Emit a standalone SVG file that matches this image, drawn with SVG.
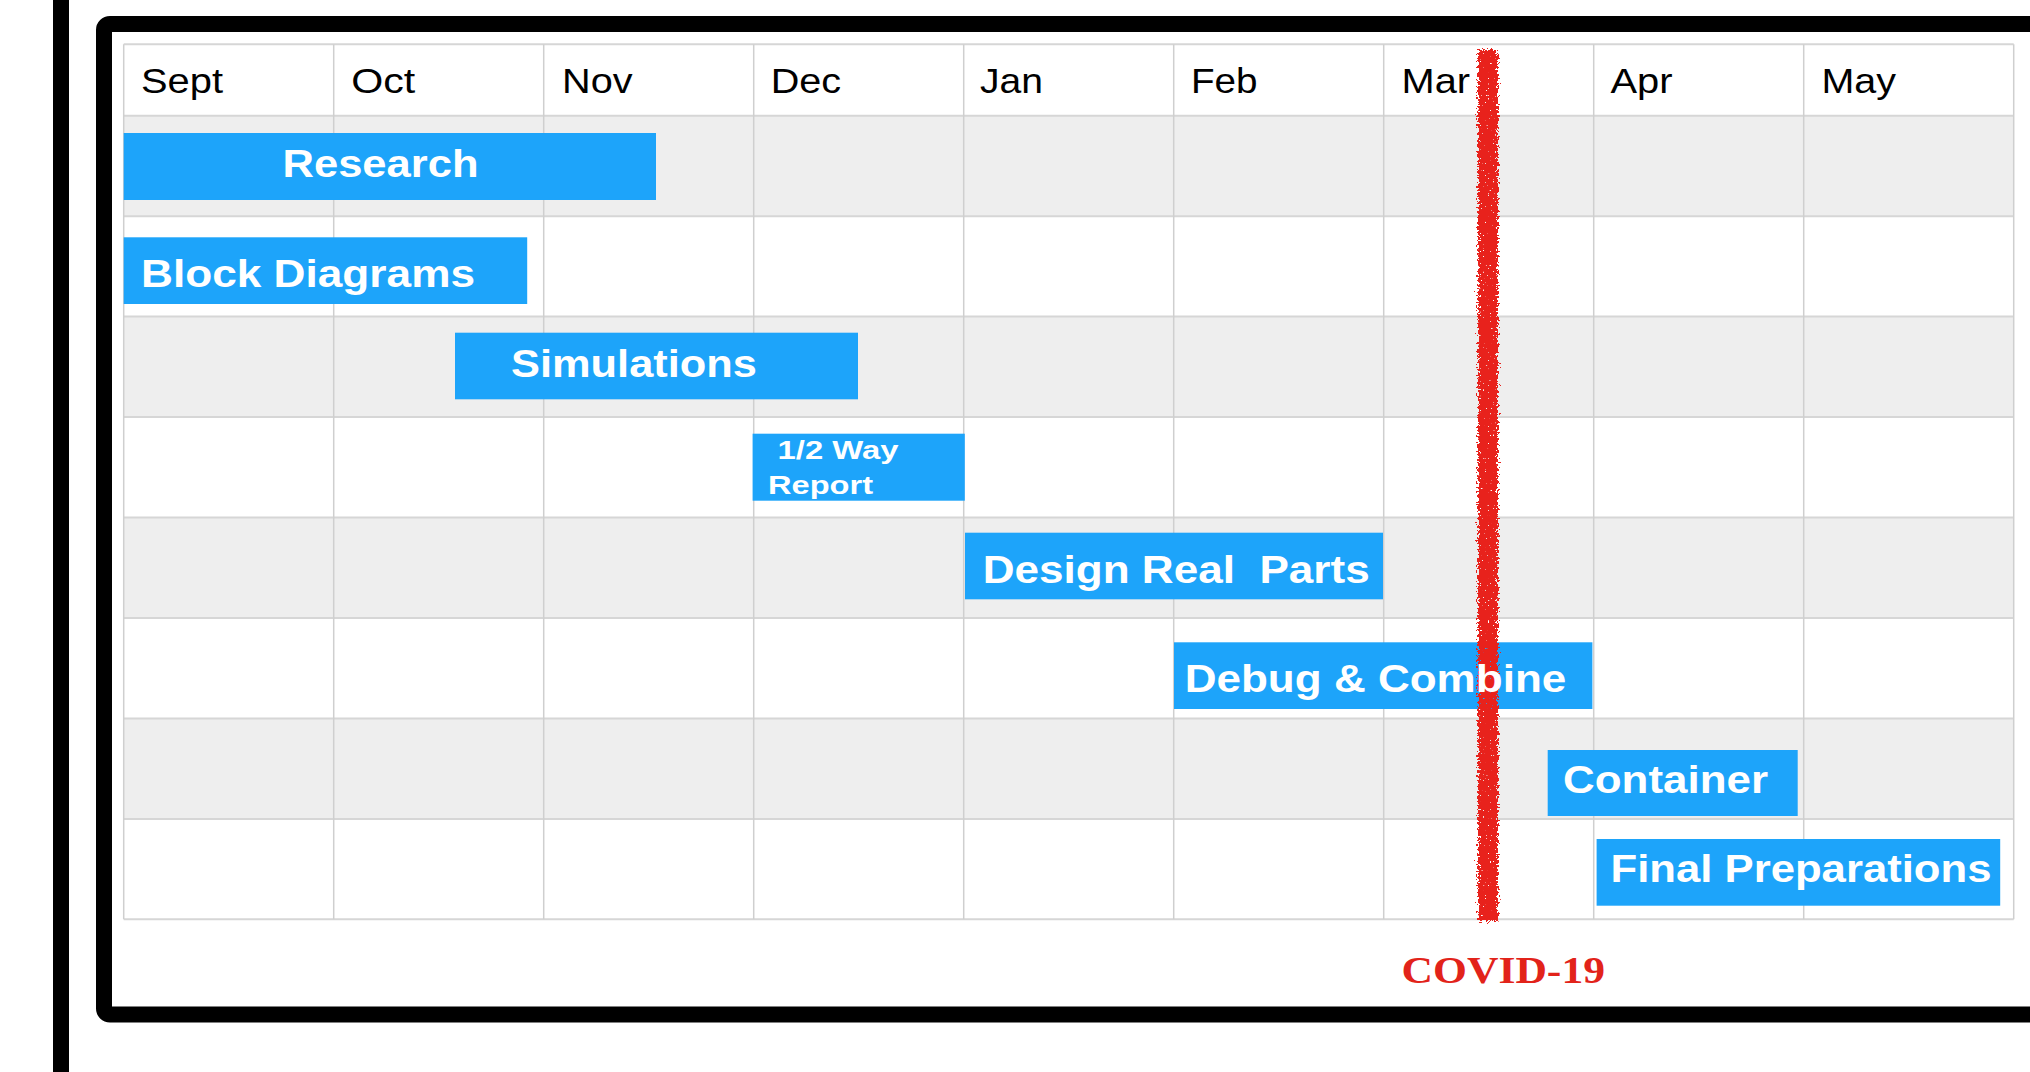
<svg xmlns="http://www.w3.org/2000/svg" width="2030" height="1072" viewBox="0 0 2030 1072">
  <style>
    .month { font-family: "Liberation Sans", Arial, sans-serif; font-size: 35px; fill: #000; }
    .bar { fill: #1da4fa; }
    .lbl { font-family: "Liberation Sans", Arial, sans-serif; font-weight: bold; font-size: 38.5px; fill: #fff; white-space: pre; }
    .lbl-sm { font-family: "Liberation Sans", Arial, sans-serif; font-weight: bold; font-size: 26.5px; fill: #fff; }
    .grey { fill: #eeeeee; }
    .vline { stroke: #cfcfcf; stroke-width: 1.5; }
    .hline { stroke: #d6d6d6; stroke-width: 2; }
  </style>
  <defs>
    <filter id="rough" x="-100%" y="-2%" width="300%" height="104%">
      <feTurbulence type="fractalNoise" baseFrequency="0.45" numOctaves="2" seed="7" result="n"/>
      <feDisplacementMap in="SourceGraphic" in2="n" scale="10" xChannelSelector="R" yChannelSelector="G" result="d"/>
      <feTurbulence type="fractalNoise" baseFrequency="0.6" numOctaves="1" seed="3" result="n2"/>
      <feColorMatrix in="n2" type="matrix" values="0 0 0 0 0  0 0 0 0 0  0 0 0 0 0  0 0 0 -25 18.5" result="holes"/>
      <feComposite in="d" in2="holes" operator="in"/>
    </filter>
  </defs>

  <rect width="2030" height="1072" fill="#fff"/>
  <rect id="left-bar" x="53" y="0" width="16" height="1072" fill="#000"/>
  <rect id="frame" x="104" y="24" width="1950" height="990.5" rx="6" fill="#fff" stroke="#000" stroke-width="16"/>

  <g id="table">
    <rect x="123.7" y="44.3" width="1890" height="875" fill="#fff"/>
    <rect class="grey" x="123.7" y="115.7" width="1890" height="100.45"/>
    <rect class="grey" x="123.7" y="316.6" width="1890" height="100.45"/>
    <rect class="grey" x="123.7" y="517.5" width="1890" height="100.45"/>
    <rect class="grey" x="123.7" y="718.4" width="1890" height="100.45"/>
    <g>
      <line class="hline" x1="123.7" y1="44.3" x2="2013.7" y2="44.3"/>
      <line class="hline" x1="123.7" y1="115.7" x2="2013.7" y2="115.7"/>
      <line class="hline" x1="123.7" y1="216.2" x2="2013.7" y2="216.2"/>
      <line class="hline" x1="123.7" y1="316.6" x2="2013.7" y2="316.6"/>
      <line class="hline" x1="123.7" y1="417.1" x2="2013.7" y2="417.1"/>
      <line class="hline" x1="123.7" y1="517.5" x2="2013.7" y2="517.5"/>
      <line class="hline" x1="123.7" y1="618.0" x2="2013.7" y2="618.0"/>
      <line class="hline" x1="123.7" y1="718.4" x2="2013.7" y2="718.4"/>
      <line class="hline" x1="123.7" y1="818.9" x2="2013.7" y2="818.9"/>
      <line class="hline" x1="123.7" y1="919.3" x2="2013.7" y2="919.3"/>
    </g>
    <g>
      <line class="vline" x1="123.7" y1="44.3" x2="123.7" y2="919.3"/>
      <line class="vline" x1="333.7" y1="44.3" x2="333.7" y2="919.3"/>
      <line class="vline" x1="543.7" y1="44.3" x2="543.7" y2="919.3"/>
      <line class="vline" x1="753.7" y1="44.3" x2="753.7" y2="919.3"/>
      <line class="vline" x1="963.7" y1="44.3" x2="963.7" y2="919.3"/>
      <line class="vline" x1="1173.7" y1="44.3" x2="1173.7" y2="919.3"/>
      <line class="vline" x1="1383.7" y1="44.3" x2="1383.7" y2="919.3"/>
      <line class="vline" x1="1593.7" y1="44.3" x2="1593.7" y2="919.3"/>
      <line class="vline" x1="1803.7" y1="44.3" x2="1803.7" y2="919.3"/>
      <line class="vline" x1="2013.7" y1="44.3" x2="2013.7" y2="919.3"/>
    </g>
    <g id="months">
      <text class="month" x="141" y="93.3" textLength="82" lengthAdjust="spacingAndGlyphs">Sept</text>
      <text class="month" x="351.3" y="93.3" textLength="64" lengthAdjust="spacingAndGlyphs">Oct</text>
      <text class="month" x="562" y="93.3" textLength="70.5" lengthAdjust="spacingAndGlyphs">Nov</text>
      <text class="month" x="770.7" y="93.3" textLength="70.5" lengthAdjust="spacingAndGlyphs">Dec</text>
      <text class="month" x="980" y="93.3" textLength="63" lengthAdjust="spacingAndGlyphs">Jan</text>
      <text class="month" x="1191" y="93.3" textLength="66.5" lengthAdjust="spacingAndGlyphs">Feb</text>
      <text class="month" x="1401.5" y="93.3" textLength="68.5" lengthAdjust="spacingAndGlyphs">Mar</text>
      <text class="month" x="1610.5" y="93.3" textLength="62" lengthAdjust="spacingAndGlyphs">Apr</text>
      <text class="month" x="1821.4" y="93.3" textLength="74.5" lengthAdjust="spacingAndGlyphs">May</text>
    </g>
  </g>

  <g id="research">
    <rect class="bar" x="123.7" y="133" width="532.3" height="67"/>
    <text class="lbl" x="282.5" y="177" textLength="196" lengthAdjust="spacingAndGlyphs">Research</text>
  </g>
  <g id="block-diagrams">
    <rect class="bar" x="123.7" y="237.3" width="403.5" height="66.7"/>
    <text class="lbl" x="141" y="287" textLength="334" lengthAdjust="spacingAndGlyphs">Block Diagrams</text>
  </g>
  <g id="simulations">
    <rect class="bar" x="455" y="332.7" width="403" height="66.6"/>
    <text class="lbl" x="511" y="377" textLength="246" lengthAdjust="spacingAndGlyphs">Simulations</text>
  </g>
  <g id="half-way-report">
    <rect class="bar" x="752.6" y="433.7" width="212.2" height="67"/>
    <text class="lbl-sm" x="777.6" y="459" textLength="121" lengthAdjust="spacingAndGlyphs">1/2 Way</text>
    <text class="lbl-sm" x="768" y="494" textLength="105" lengthAdjust="spacingAndGlyphs">Report</text>
  </g>
  <g id="design-real-parts">
    <rect class="bar" x="965" y="532.7" width="418" height="66.6"/>
    <text class="lbl" x="982.7" y="582.7" textLength="387" lengthAdjust="spacingAndGlyphs">Design Real  Parts</text>
  </g>
  <g id="debug-combine">
    <rect class="bar" x="1174" y="642.3" width="418.4" height="66.7"/>
  </g>
  <g id="container">
    <rect class="bar" x="1547.7" y="750" width="250" height="66"/>
    <text class="lbl" x="1563" y="792.7" textLength="205" lengthAdjust="spacingAndGlyphs">Container</text>
  </g>
  <g id="final-preparations">
    <rect class="bar" x="1596.6" y="839" width="403.6" height="66.7"/>
    <text class="lbl" x="1610.5" y="881.7" textLength="381" lengthAdjust="spacingAndGlyphs">Final Preparations</text>
  </g>

  <g id="covid-line">
    <rect x="1478" y="50" width="20" height="871" fill="#e8231f" filter="url(#rough)"/>
  </g>
  <g id="debug-combine-label">
    <text class="lbl" x="1184.7" y="692" textLength="381.6" lengthAdjust="spacingAndGlyphs">Debug &amp; Combine</text>
  </g>
  <g id="covid-label">
    <text x="1401.5" y="983.3" textLength="203.5" lengthAdjust="spacingAndGlyphs" font-family="'Liberation Serif', 'Times New Roman', serif" font-weight="bold" font-size="38" fill="#e2231a">COVID-19</text>
  </g>
</svg>
